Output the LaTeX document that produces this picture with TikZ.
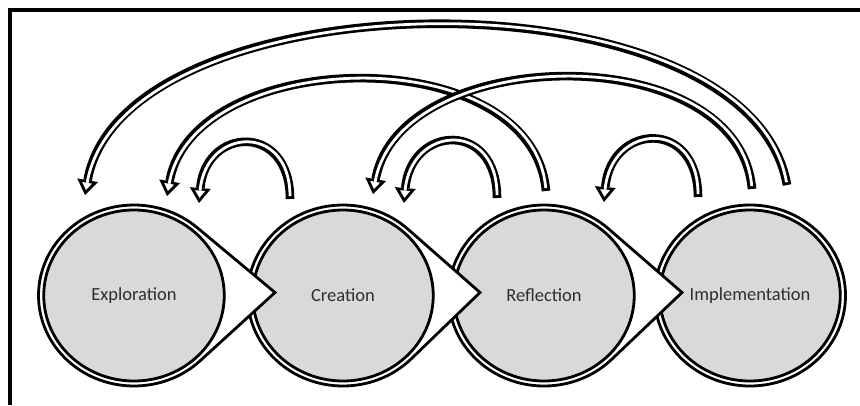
\documentclass[tikz,border=0pt]{standalone}
\usepackage{fontspec}
\setmainfont{Carlito}
\usetikzlibrary{arrows.meta,shapes.geometric}
\definecolor{stagegrey}{HTML}{D9D9D9}
\tikzset{
  ring/.style={draw,line width=2.8pt,fill=white},
  stage/.style={ellipse,draw,line width=2.8pt,fill=stagegrey,minimum width=180.5pt,
    minimum height=171pt,inner sep=0pt,text=black!82,font=\fontsize{18.5}{22}\selectfont},
  back/.style={line width=8.6pt,-{Triangle[width=21pt,length=15pt,line width=0pt]},
    postaction={draw=white,line width=2.8pt,shorten <=2.9pt,shorten >=5.2pt,
      -{Triangle[width=10pt,length=7.2pt,line width=0pt]}}}
}
\begin{document}
\begin{tikzpicture}[x=1pt,y=1pt]
      \useasboundingbox (0,0) rectangle (860,-405);
      \draw[line width=4pt] (10,-405) -- (10,-9.5) -- (860,-9.5);
      \draw[ring] (750,-295.5) ellipse[x radius=95.5,y radius=90.5];
      \node[stage] (impl) at (750,-295.5) {Implementation};
      \begin{scope}[shift={(544,-295.5)},yscale=0.9476]
        \draw[ring] (47.55:95.5) -- (138,3.17) -- (-44.91:95.5)
          arc[start angle=-44.91,end angle=-312.45,radius=95.5] -- cycle;
      \end{scope}
      \node[stage] (refl) at (544,-295.5) {Reflection};
      \begin{scope}[shift={(343,-295.5)},yscale=0.9476]
        \draw[ring] (47.15:95.5) -- (137,3.17) -- (-44.49:95.5)
          arc[start angle=-44.49,end angle=-312.85,radius=95.5] -- cycle;
      \end{scope}
      \node[stage] (crea) at (343,-295.5) {Creation};
      \begin{scope}[shift={(134,-295.5)},yscale=0.9476]
        \draw[ring] (48.67:95.5) -- (141,3.17) -- (-46.09:95.5)
          arc[start angle=-46.09,end angle=-311.33,radius=95.5] -- cycle;
      \end{scope}
      \node[stage] (expl) at (134,-295.5) {Exploration};
      \coordinate (impl-1) at (787,-185);
      \coordinate (impl-2) at (752,-189);
      \coordinate (impl-3) at (698,-197);
      \coordinate (refl-1) at (604,-202);
      \coordinate (refl-2) at (546,-191);
      \coordinate (refl-3) at (497,-198);
      \coordinate (crea-1) at (404,-203);
      \coordinate (crea-2) at (373,-194);
      \coordinate (crea-3) at (290,-199);
      \coordinate (expl-1) at (199,-203);
      \coordinate (expl-2) at (167,-196);
      \coordinate (expl-3) at (85,-195);
      \draw[back] (impl-1) to[out=100,in=80,looseness=0.81] (expl-3);
      \draw[back] (refl-2) to[out=95,in=80,looseness=1.03] (expl-2);
      \draw[back] (impl-2) to[out=95,in=80,looseness=1.03] (crea-2);
      \draw[back] (crea-3) to[out=90,in=85,looseness=2.15] (expl-1);
      \draw[back] (refl-3) to[out=90,in=85,looseness=2.15] (crea-1);
      \draw[back] (impl-3) to[out=90,in=85,looseness=2.15] (refl-1);
    \end{tikzpicture}
\end{document}
